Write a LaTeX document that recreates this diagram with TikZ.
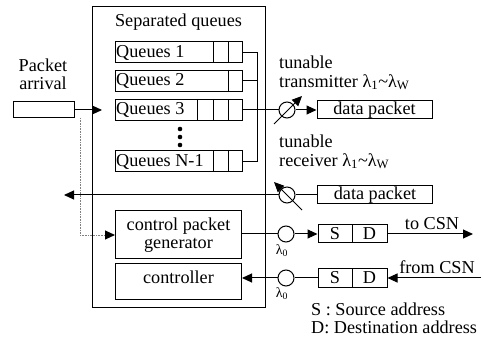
\documentclass[tikz,border=0pt]{standalone}
\usepackage{fontspec}
\setmainfont{Liberation Serif}
\usetikzlibrary{arrows.meta}
\begin{document}
\begin{tikzpicture}[x=1pt,y=-1pt,
  every node/.style={font=\fontsize{18.2}{20}\selectfont, inner sep=0pt},
  box/.style={draw, line width=1pt, rectangle},
  qbox/.style={box, minimum width=127pt, minimum height=21pt},
  ring/.style={draw, line width=1pt, circle, minimum size=16pt},
  wire/.style={line width=1pt},
  arr/.style={line width=1pt, -{Triangle[length=10pt,width=9pt]}},
  faint/.style={line width=0.6pt, densely dotted, gray},
  txt/.style={anchor=west},
  small/.style={font=\fontsize{14}{16}\selectfont}
]
\useasboundingbox (0,0) rectangle (483,337);

% outer frame of the node
\node[box, minimum width=173pt, minimum height=300pt] (frame) at (178.5,157) {};
\node (title) at (178.5,22) {Separated queues};

% queues with their buffer cells
\node[qbox] (q1) at (178.5,52.5) {};
\node[qbox] (q2) at (178.5,81) {};
\node[qbox] (q3) at (178.5,110) {};
\node[qbox] (qn) at (178.5,161.5) {};
\node[txt] at ([xshift=1.5pt]q1.west) {Queues 1};
\node[txt] at ([xshift=1.5pt]q2.west) {Queues 2};
\node[txt] at ([xshift=1.5pt]q3.west) {Queues 3};
\node[txt] at ([xshift=1.5pt]qn.west) {Queues N-1};
\foreach \q/\xs in {q1/{213,228}, q2/{228}, q3/{197,213,228}, qn/{213,228}} {
  \foreach \x in \xs {
    \draw[wire] (\x,0 |- \q.north) -- (\x,0 |- \q.south);
  }
}
\foreach \y in {129,137,145} \fill (180,\y) circle (2.3pt);

% output bus of the queues
\coordinate (bus1) at (257,52.5);
\coordinate (busn) at (257,161.5);
\draw[wire] (q1.east) -- (bus1) -- (busn) -- (qn.east);
\draw[wire] (q2.east) -- (257,81);

% tunable transmitter
\node[ring] (tx) at (287,110) {};
\draw[wire] (q3.east) -- (tx.west);
\draw[arr] (274,124) -- (302,96);
\node[box, minimum width=115pt, minimum height=18pt] (dp1) at (374.5,110) {data packet};
\draw[arr] (tx.east) -- (dp1.west);
\node[txt] at (279,62) {tunable};
\node[txt] at (279,82) {transmitter λ\textsubscript{1}\textasciitilde λ\textsubscript{W}};

% tunable receiver
\node[txt] at (279,141) {tunable};
\node[txt] at (279,161) {receiver λ\textsubscript{1}\textasciitilde λ\textsubscript{W}};
\node[ring] (rx) at (287,195) {};
\draw[arr] (302,210) -- (274,182);
\node[box, minimum width=115pt, minimum height=18pt] (dp2) at (375,195) {data packet};
\draw[wire] (dp2.west) -- (rx.east);
\coordinate (out) at (64,195);
\draw[arr] (rx.west) -- (out);

% packet arrival
\node (pk1) at (43,65) {Packet};
\node (pk2) at (43,83) {arrival};
\node[box, minimum width=61pt, minimum height=16pt] (arrive) at (44,110) {};
\coordinate (inq) at (102,110);
\draw[arr] (arrive.east) -- (inq);

% control part
\node[box, minimum width=126pt, minimum height=48pt, align=center] (cpg) at (178.5,235)
  {control packet\\[-2pt]generator};
\node[box, minimum width=126pt, minimum height=35pt] (ctl) at (178.5,281.5) {};
\node at (178.5,277) {controller};
\coordinate (tap) at (80,118);
\draw[faint] (tap) -- (80,235);
\draw[faint] (80,235) -- (108,235);
\draw[arr] (106,235) -- (cpg.west);

\node[ring] (c1) at (286,234) {};
\node[ring] (c2) at (286,278) {};
\node[small] at (282,251) {λ\textsubscript{0}};
\node[small] at (282,294) {λ\textsubscript{0}};
\draw[wire] (cpg.east |- c1) -- (c1.west);
\draw[arr] (c2.west) -- (ctl.east |- c2);

\node[box, minimum width=34pt, minimum height=18pt] (s1) at (335,234) {S};
\node[box, minimum width=35pt, minimum height=18pt] (d1) at (369.5,234) {D};
\draw[arr] (c1.east) -- (s1.west);
\coordinate (csnout) at (473,234);
\draw[arr] (d1.east) -- (csnout);
\node (toc) at (432,224) {to CSN};

\node[box, minimum width=34pt, minimum height=18pt] (s2) at (335,278) {S};
\node[box, minimum width=35pt, minimum height=18pt] (d2) at (369.5,278) {D};
\draw[wire] (s2.west) -- (c2.east);
\coordinate (csnin) at (481,278);
\draw[arr] (csnin) -- (d2.east);
\node (fromc) at (437,267) {from CSN};

\node[txt] at (311,309) {S : Source address};
\node[txt] at (311,327) {D: Destination address};
\end{tikzpicture}
\end{document}
